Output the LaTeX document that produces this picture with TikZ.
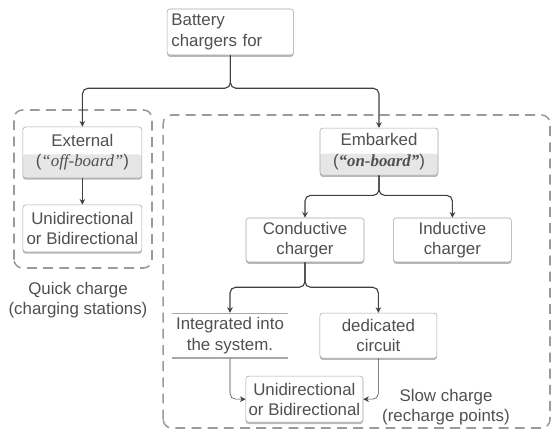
\documentclass[tikz,border=0pt]{standalone}
\usepackage{fontspec}
\setmainfont{Liberation Sans}
\newfontfamily\quotefont{Liberation Serif}
\usetikzlibrary{arrows.meta,shadows,calc}
\definecolor{txtgray}{HTML}{505050}
\definecolor{boxgray}{HTML}{A8A8A8}
\definecolor{linegray}{HTML}{404040}
\definecolor{dashgray}{HTML}{9A9A9A}
\definecolor{halfgray}{HTML}{E6E6E6}

\begin{document}
\begin{tikzpicture}[
    font=\fontsize{12}{14.5}\selectfont,
    chbox/.style={draw=boxgray, rounded corners=2pt, fill=white, align=center, text=txtgray,
      minimum width=2.95cm, minimum height=1.15cm, inner sep=2pt,
      drop shadow={shadow xshift=0pt, shadow yshift=-1.3pt, fill=gray!70, opacity=0.8}},
    halfbox/.style={chbox, path picture={\fill[halfgray] ($(path picture bounding box.west)+(0,-0.05)$) rectangle (path picture bounding box.south east);}},
    openbox/.style={align=center, text=txtgray, minimum width=2.9cm, minimum height=1.125cm, inner sep=2pt},
    conn/.style={draw=linegray, thick, rounded corners=4pt, -{Stealth[length=4pt,width=4pt]}},
    dashbox/.style={draw=dashgray, line width=1.1pt, rounded corners=6pt, dash pattern=on 7pt off 4.5pt},
    note/.style={align=center, text=txtgray}
  ]
    \useasboundingbox (0,0) rectangle (13.85,10.8);

    \draw[dashbox] (0.35,4.1) rectangle (3.8,8.05);
    \draw[dashbox] (4.08,0.1) rectangle (13.75,7.925);

    \node[chbox, align=left, text width=2.95cm, minimum width=3.125cm, inner sep=3pt] (bat) at (5.76,10.0)
      {Battery\\chargers for};

    \node[halfbox, minimum width=2.975cm, minimum height=1.275cm] (ext) at (2.06,6.99)
      {External\\({\quotefont\itshape “off-board”})};
    \node[chbox, minimum width=2.975cm, minimum height=1.175cm] (uni1) at (2.06,5.09)
      {Unidirectional\\or Bidirectional};
    \node[note] (quick) at (1.95,3.3) {Quick charge\\(charging stations)};

    \node[halfbox, minimum height=1.175cm] (emb) at (9.475,7.01)
      {Embarked\\({\quotefont\bfseries\itshape “on-board”})};
    \node[chbox, minimum height=1.1cm] (cond) at (7.625,4.8) {Conductive\\charger};
    \node[chbox, minimum height=1.1cm] (ind) at (11.31,4.8) {Inductive\\charger};

    \node[openbox] (integ) at (5.75,2.41) {Integrated into\\the system.};
    \draw[boxgray] (integ.north west) -- (integ.north east);
    \draw[boxgray, line width=1.3pt] (integ.south west) -- (integ.south east);
    \node[chbox, minimum width=2.925cm, minimum height=1.125cm] (ded) at (9.46,2.41) {dedicated\\circuit};
    \node[chbox, minimum width=2.925cm] (uni2) at (7.61,0.82) {Unidirectional\\or Bidirectional};
    \node[note] (slow) at (11.15,0.625) {Slow charge\\(recharge points)};

    \draw[conn] (bat.south) -- ++(0,-0.825) -| (ext.north);
    \draw[conn] (bat.south) -- ++(0,-0.825) -| (emb.north);
    \draw[conn] (ext.south) -- (uni1.north);
    \draw[conn] (emb.south) -- ++(0,-0.5) -| (cond.north);
    \draw[conn] (emb.south) -- ++(0,-0.5) -| (ind.north);
    \draw[conn] (cond.south) -- ++(0,-0.625) -| (integ.north);
    \draw[conn] (cond.south) -- ++(0,-0.625) -| (ded.north);
    \draw[conn, thin] (integ.south) |- (uni2.west);
    \draw[conn, thin] (ded.south) |- (uni2.east);
  \end{tikzpicture}
\end{document}
